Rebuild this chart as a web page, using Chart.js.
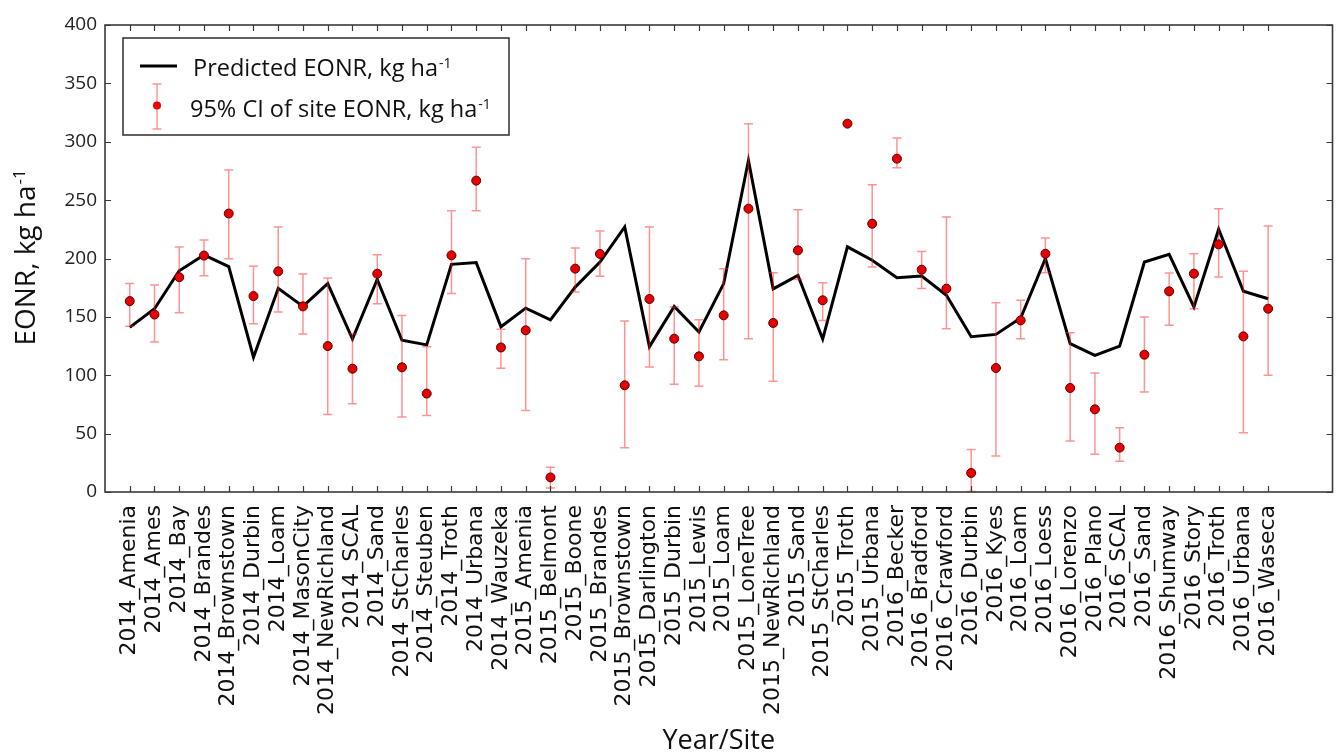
<!DOCTYPE html>
<html><head><meta charset="utf-8">
<script src="https://cdn.jsdelivr.net/npm/chart.js@4.4.0/dist/chart.umd.min.js"></script>
<style>html,body{margin:0;padding:0;background:#fff;}#wrap{width:1338px;height:755px;}</style>
</head><body><div id="wrap"><canvas id="c" width="1338" height="755"></canvas></div>
<script>
const categories = ["2014_Amenia","2014_Ames","2014_Bay","2014_Brandes","2014_Brownstown","2014_Durbin","2014_Loam","2014_MasonCity","2014_NewRichland","2014_SCAL","2014_Sand","2014_StCharles","2014_Steuben","2014_Troth","2014_Urbana","2014_Wauzeka","2015_Amenia","2015_Belmont","2015_Boone","2015_Brandes","2015_Brownstown","2015_Darlington","2015_Durbin","2015_Lewis","2015_Loam","2015_LoneTree","2015_NewRichland","2015_Sand","2015_StCharles","2015_Troth","2015_Urbana","2016_Becker","2016_Bradford","2016_Crawford","2016_Durbin","2016_Kyes","2016_Loam","2016_Loess","2016_Lorenzo","2016_Plano","2016_SCAL","2016_Sand","2016_Shumway","2016_Story","2016_Troth","2016_Urbana","2016_Waseca"];
const predictedEONR = [141,157,189.5,203,193,115.5,174.5,159,178.5,131,182,130,126,195,196.5,141.5,157.5,147.5,175.5,197,227,124.5,159,137,178.5,284,174,185.5,131,210,198.5,183.5,185,168.5,133,135,149,200,127,117,125,197,203.5,158.5,225,172,165.5];
const siteEONR = [163.5,152,184,202.5,238.5,167.8,189,159,125,105.6,187,106.8,84.3,202.7,266.7,123.8,138.5,12.5,191.3,203.9,91.4,165.3,131.3,116.2,151.3,242.7,144.8,207,164.2,315.5,229.8,285.5,190.4,174.2,16.3,106.2,147,204.1,89.1,70.8,38,117.6,171.9,187,212.1,133.3,157];
const ciLower = [142,128.5,153.5,185.3,199.8,144.2,154.1,135.4,66.3,75.5,161.2,64.2,65.5,170,241,105.9,69.8,3.4,171.3,184.7,38,107,92.2,90.5,113.3,131.3,94.8,182,147,315.5,192.7,277.8,174.2,139.9,0.5,30.8,131.3,187.9,43.7,32.3,26.3,85.7,142.8,157,184.2,50.8,99.9];
const ciUpper = [178.5,177.2,209.8,215.9,275.8,193.4,227,186.7,183.2,135.6,203.2,151.1,124.4,240.8,295.2,139.5,199.8,21.3,209,223.6,146.5,227,158.5,147.6,191.3,315.5,187.9,241.8,179.3,315.5,263.2,303.2,206.1,235.5,36.3,162.2,164.2,217.6,136.5,101.9,55.1,149.9,187.6,204.1,242.7,189,227.8];
const yTickValues = [0,50,100,150,200,250,300,350,400];
const legendLabels = ["Predicted EONR, kg ha", "95% CI of site EONR, kg ha"];
const unitSup = "-1";
const yTitle = "EONR, kg ha";
const xTitle = "Year/Site";

const SANS = "'Open Sans', 'Noto Sans', sans-serif";
const FRAME = '#3a3a3a';

function drawSup(ctx, x, y, main, sup, size) {
  ctx.font = size + "px " + SANS;
  ctx.fillText(main, x, y);
  const w = ctx.measureText(main).width;
  ctx.font = (size * 0.6) + "px " + SANS;
  ctx.fillText(sup, x + w + 1, y - size * 0.36);
}
function supWidth(ctx, main, sup, size) {
  ctx.font = size + "px " + SANS;
  const w = ctx.measureText(main).width;
  ctx.font = (size * 0.6) + "px " + SANS;
  return w + 1 + ctx.measureText(sup).width;
}

const errorBars = {
  id: 'errorBars',
  beforeDatasetDraw(chart, args) {
    if (args.index !== 1) return;
    const ctx = chart.ctx, xs = chart.scales.x, ys = chart.scales.y;
    ctx.save();
    ctx.strokeStyle = 'rgba(255,40,40,0.5)';
    ctx.lineWidth = 1.5;
    for (let i = 0; i < siteEONR.length; i++) {
      const px = xs.getPixelForValue(i);
      const lo = ys.getPixelForValue(ciLower[i]);
      const hi = ys.getPixelForValue(ciUpper[i]);
      ctx.beginPath();
      ctx.moveTo(px, lo); ctx.lineTo(px, hi);
      ctx.moveTo(px - 4.5, lo); ctx.lineTo(px + 4.5, lo);
      ctx.moveTo(px - 4.5, hi); ctx.lineTo(px + 4.5, hi);
      ctx.stroke();
    }
    ctx.restore();
  }
};

const frameAndAnnotations = {
  id: 'frameAndAnnotations',
  afterDraw(chart) {
    const ctx = chart.ctx, a = chart.chartArea, xs = chart.scales.x, ys = chart.scales.y;
    ctx.save();
    ctx.strokeStyle = FRAME;
    ctx.lineWidth = 1.6;
    ctx.strokeRect(a.left, a.top, a.right - a.left, a.bottom - a.top);
    ctx.lineWidth = 1.2;
    ctx.beginPath();
    for (let i = 0; i < categories.length; i++) {
      const px = Math.round(xs.getPixelForValue(i)) + 0.5;
      ctx.moveTo(px, a.bottom); ctx.lineTo(px, a.bottom - 6);
      ctx.moveTo(px, a.top); ctx.lineTo(px, a.top + 6);
    }
    for (const v of yTickValues) {
      const py = Math.round(ys.getPixelForValue(v)) + 0.5;
      ctx.moveTo(a.left, py); ctx.lineTo(a.left + 6, py);
      ctx.moveTo(a.right, py); ctx.lineTo(a.right - 6, py);
    }
    ctx.stroke();

    ctx.fillStyle = '#111';
    ctx.textBaseline = 'alphabetic';
    ctx.textAlign = 'left';
    const ts = 28;
    const tw = supWidth(ctx, yTitle, unitSup, ts);
    ctx.save();
    ctx.translate(35, 257.5);
    ctx.rotate(-Math.PI / 2);
    drawSup(ctx, -tw / 2, 0, yTitle, unitSup, ts);
    ctx.restore();

    ctx.fillStyle = '#fff';
    ctx.fillRect(123, 38, 386, 97);
    ctx.strokeStyle = FRAME;
    ctx.lineWidth = 1.6;
    ctx.strokeRect(123, 38, 386, 97);
    ctx.strokeStyle = '#000';
    ctx.lineWidth = 3;
    ctx.beginPath(); ctx.moveTo(140, 66); ctx.lineTo(177, 66); ctx.stroke();
    ctx.strokeStyle = 'rgba(255,40,40,0.5)';
    ctx.lineWidth = 1.5;
    ctx.beginPath();
    ctx.moveTo(157, 84); ctx.lineTo(157, 129);
    ctx.moveTo(152.5, 84); ctx.lineTo(161.5, 84);
    ctx.moveTo(152.5, 129); ctx.lineTo(161.5, 129);
    ctx.stroke();
    ctx.fillStyle = '#ee0000';
    ctx.beginPath(); ctx.arc(157, 105.5, 4, 0, Math.PI * 2); ctx.fill();
    ctx.fillStyle = '#111';
    drawSup(ctx, 193, 76, legendLabels[0], unitSup, 23.5);
    drawSup(ctx, 190, 117, legendLabels[1], unitSup, 23.5);
    ctx.restore();
  }
};

new Chart(document.getElementById('c'), {
  data: {
    datasets: [
      {
        type: 'line',
        label: 'Predicted EONR',
        data: predictedEONR.map((v, i) => ({x: i, y: v})),
        borderColor: '#000',
        borderWidth: 3,
        pointRadius: 0,
        tension: 0,
        fill: false,
        order: 1
      },
      {
        type: 'scatter',
        label: '95% CI of site EONR',
        data: siteEONR.map((v, i) => ({x: i, y: v})),
        backgroundColor: '#e60000',
        borderColor: '#5a0000',
        borderWidth: 1,
        pointRadius: 4.5,
        order: 0
      }
    ]
  },
  options: {
    responsive: false,
    devicePixelRatio: 1,
    animation: false,
    events: [],
    layout: {padding: {left: 0, right: 1, top: 25, bottom: 0}},
    plugins: {legend: {display: false}, tooltip: {enabled: false}},
    scales: {
      x: {
        type: 'linear',
        min: -1,
        max: 48.6,
        grid: {display: false, drawTicks: false},
        border: {display: false},
        afterBuildTicks: s => { s.ticks = categories.map((_, i) => ({value: i})); },
        afterFit: s => { s.height = 263; },
        ticks: {
          autoSkip: false,
          minRotation: 90,
          maxRotation: 90,
          padding: 13,
          color: '#111',
          font: {family: "'DejaVu Sans', sans-serif", size: 22},
          callback: v => categories[v] ?? ''
        },
        title: {
          display: true,
          text: xTitle,
          color: '#111',
          font: {family: SANS, size: 27},
          padding: {top: 0, bottom: -3}
        }
      },
      y: {
        type: 'linear',
        min: 0,
        max: 400,
        grid: {display: false, drawTicks: false},
        border: {display: false},
        afterFit: s => { s.width = 105; },
        afterBuildTicks: s => { s.ticks = yTickValues.map(v => ({value: v})); },
        ticks: {
          padding: 8,
          color: '#222',
          font: {family: SANS, size: 19}
        }
      }
    }
  },
  plugins: [errorBars, frameAndAnnotations]
});
</script>
</body></html>
